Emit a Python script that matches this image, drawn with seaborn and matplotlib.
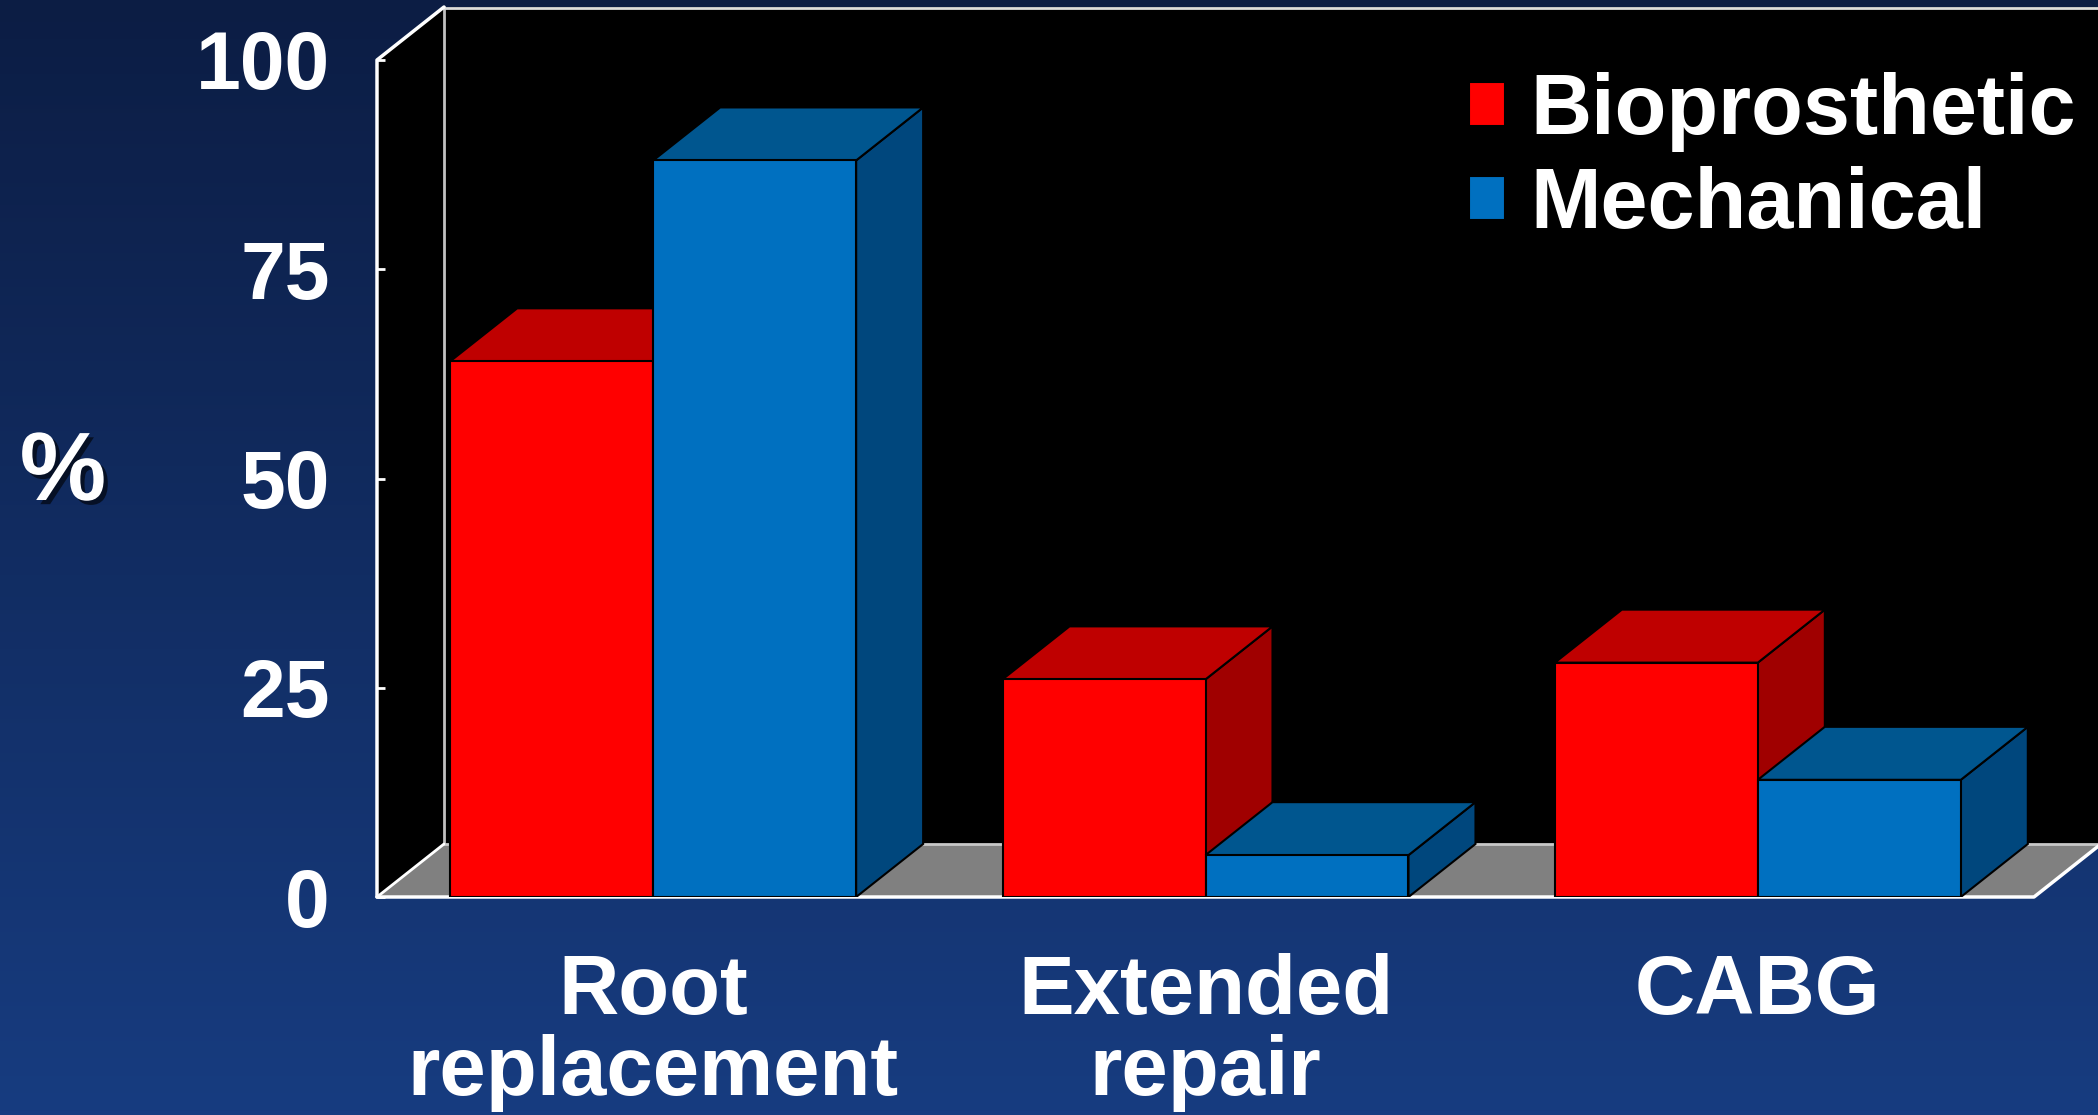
import numpy as np
import pandas as pd
import matplotlib
matplotlib.use("Agg")
import matplotlib.pyplot as plt
import matplotlib.patheffects as pe
from matplotlib.patches import Polygon
import seaborn as sns

# ---- data ----
categories = ["Root\nreplacement", "Extended\nrepair", "CABG"]
series_names = ["Bioprosthetic", "Mechanical"]
bioprosthetic = [64, 26, 28]
mechanical = [88, 5, 14]
y_ticks = [0, 25, 50, 75, 100]

front_colors = ["#FF0000", "#0070C0"]
top_colors = ["#BF0000", "#00568F"]
side_colors = ["#A00000", "#00477D"]

df = pd.DataFrame({
    "category": categories * 2,
    "series": [series_names[0]] * 3 + [series_names[1]] * 3,
    "value": bioprosthetic + mechanical,
})

sns.set_theme(style="white")
plt.rcParams["font.family"] = ["Liberation Sans", "DejaVu Sans"]
plt.rcParams["font.weight"] = "bold"

W, H = 2098, 1115
fig = plt.figure(figsize=(W / 100, H / 100), dpi=100)

# background gradient
bg = fig.add_axes([0, 0, 1, 1], zorder=-10)
grad = np.linspace(0, 1, 256).reshape(-1, 1)
top_c = np.array([12, 29, 68]) / 255
bot_c = np.array([23, 60, 128]) / 255
img = top_c[None, None, :] * (1 - grad[:, :, None]) + bot_c[None, None, :] * grad[:, :, None]
bg.imshow(img, aspect="auto", extent=[0, 1, 0, 1])
bg.set_axis_off()

# main axes geometry
x0_px, x1_px = 377, 2098
y0_px, ytop_px = 897, 7
px_per_x = (2034 - 377) / 3.0
px_per_y = (897 - 60) / 100.0
xlim = (-0.5, -0.5 + (x1_px - x0_px) / px_per_x)
ylim = (0, (y0_px - ytop_px) / px_per_y)
dx = 67 / px_per_x
dy = 53 / px_per_y

ax = fig.add_axes([x0_px / W, (H - y0_px) / H, (x1_px - x0_px) / W, (y0_px - ytop_px) / H])
ax.patch.set_alpha(0)

sns.barplot(data=df, x="category", y="value", hue="series", hue_order=series_names,
            palette=front_colors, width=0.735, gap=0, ax=ax, edgecolor="black",
            linewidth=1.5, saturation=1, legend=True, zorder=4)

ax.set_xlim(*xlim)
ax.set_ylim(*ylim)

# back wall, left wall, floor
xl, xr = -0.5, 2.5
ax.add_patch(Polygon([(xl + dx, dy), (xlim[1], dy), (xlim[1], ylim[1]), (xl + dx, ylim[1])],
                     closed=True, facecolor="black", edgecolor="none", zorder=0))
ax.add_patch(Polygon([(xl, 0), (xl + dx, dy), (xl + dx, ylim[1]), (xl, 100)],
                     closed=True, facecolor="black", edgecolor="none", zorder=0))
ax.add_patch(Polygon([(xl, 0), (xr, 0), (xr + dx, dy), (xl + dx, dy)],
                     closed=True, facecolor="#808080", edgecolor="none", zorder=1))
ax.plot([xl + dx, xlim[1]], [dy, dy], color="#C8C8C8", lw=2, zorder=1.5, clip_on=False)
ax.plot([xl + dx, xl + dx], [dy, ylim[1]], color="#C0C0C0", lw=2, zorder=1.5, clip_on=False)
ax.plot([xl + dx, xlim[1]], [ylim[1] - 0.1, ylim[1] - 0.1], color="#DDDDDD", lw=2, zorder=1.5, clip_on=False)
ax.plot([xl, xr, xr + dx], [0, 0, dy], color="white", lw=2.5, zorder=2, clip_on=False)
ax.plot([xl, xl + dx], [0, dy], color="white", lw=2, zorder=2, clip_on=False)
ax.plot([xl, xl, xl + dx], [0, 100, ylim[1]], color="white", lw=2.5, zorder=2, clip_on=False)

# 3D faces from the library's bar geometry
n_cat = len(categories)
for i, bar in enumerate(ax.patches[:]):
    k = i // n_cat
    if k >= len(series_names):
        break
    bx, bw, bh = bar.get_x(), bar.get_width(), bar.get_height()
    base_z = 3 + 3 * k
    bar.set_zorder(base_z + 1)
    ax.add_patch(Polygon([(bx + bw, 0), (bx + bw + dx, dy), (bx + bw + dx, bh + dy), (bx + bw, bh)],
                         closed=True, facecolor=side_colors[k], edgecolor="black", lw=1.5, zorder=base_z))
    ax.add_patch(Polygon([(bx, bh), (bx + bw, bh), (bx + bw + dx, bh + dy), (bx + dx, bh + dy)],
                         closed=True, facecolor=top_colors[k], edgecolor="black", lw=1.5, zorder=base_z))

# axes styling
for s in ax.spines.values():
    s.set_visible(False)
ax.set_yticks(y_ticks)
ax.set_yticklabels([str(t) for t in y_ticks])
ax.tick_params(axis="y", direction="in", length=6, width=2, color="white", labelcolor="white",
               labelsize=58, pad=34, left=True)
ax.tick_params(axis="x", length=0, labelcolor="white", labelsize=60, pad=40)
for lab in ax.get_xticklabels():
    lab.set_fontweight("bold")
    lab.set_linespacing(1.05)
for lab in ax.get_yticklabels():
    lab.set_fontweight("bold")
ax.set_xlabel("")
ax.set_ylabel("")

# legend
handles, labels = ax.get_legend_handles_labels()
ax.get_legend().remove()
leg = fig.legend(handles, labels, loc="upper left", bbox_to_anchor=(1469 / W, 1 - 72 / H),
                 frameon=False, fontsize=61, handlelength=0.43, handleheight=0.43,
                 handletextpad=0.3, labelspacing=0.17, borderpad=0, borderaxespad=0)
for t in leg.get_texts():
    t.set_color("white")
    t.set_fontweight("bold")

# % label
fig.text(63 / W, 1 - 475 / H, "%", color="white", fontsize=70, fontweight="bold",
         ha="center", va="center",
         path_effects=[pe.SimplePatchShadow(offset=(3, -3), shadow_rgbFace="black", alpha=0.6), pe.Normal()])

fig.savefig("out.png", dpi=100)
